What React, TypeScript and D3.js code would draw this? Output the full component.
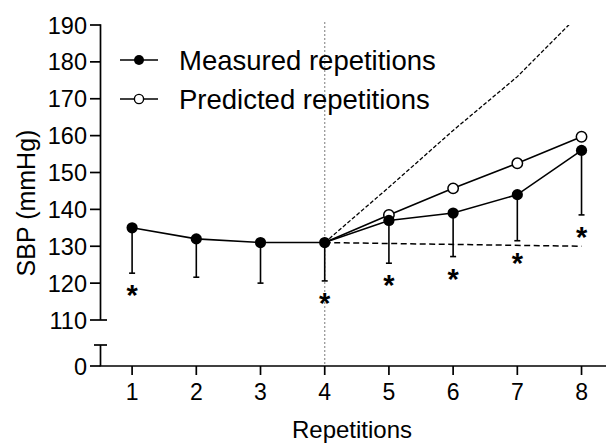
import React from 'react';
import * as d3 from 'd3';

const reps = [1, 2, 3, 4, 5, 6, 7, 8];
const measured = [135, 132, 131, 131, 137, 139, 144, 156];
const measuredLower = [122.7, 121.6, 120.0, 120.6, 125.4, 127.2, 131.5, 138.5];
const significant = [true, false, false, true, true, true, true, true];
const predictedReps = [4, 5, 6, 7, 8];
const predicted = [131, 138.5, 145.7, 152.5, 159.7];
const upperReps = [4, 5, 6, 7, 8];
const upperBound = [131, 146, 161.4, 176, 193.5];
const baseReps = [4, 8];
const baseline = [131, 130];
const yTicks = [110, 120, 130, 140, 150, 160, 170, 180, 190];
const yLowTicks = [0];
const legendLabels = ['Measured repetitions', 'Predicted repetitions'];
const xTitle = 'Repetitions';
const yTitle = 'SBP (mmHg)';

const W = 606;
const H = 443;
const FONT = '"Liberation Sans", Arial, sans-serif';

export default function App() {
  const x = d3.scaleLinear().domain([0.5, 8.35]).range([100, 604]);
  const y = d3.scaleLinear().domain([110, 190]).range([320, 25]);
  const yLow = d3.scaleLinear().domain([0, 5.7]).range([366, 345]);
  const axX = 100.5;

  const line = d3
    .line<[number, number]>()
    .x((d) => x(d[0]))
    .y((d) => y(d[1]));

  const measuredPts = reps.map((r, i) => [r, measured[i]] as [number, number]);
  const predPts = predictedReps.map((r, i) => [r, predicted[i]] as [number, number]);
  const upperPts = upperReps.map((r, i) => [r, upperBound[i]] as [number, number]);
  const basePts = baseReps.map((r, i) => [r, baseline[i]] as [number, number]);

  const legendY = [60, 99];

  return (
    <svg
      width={W}
      height={H}
      style={{ position: 'absolute', left: 0, top: 0, background: '#fff' }}
      fontFamily={FONT}
    >
      <defs>
        <clipPath id="plotClip">
          <rect x={100} y={y(190)} width={506} height={366 - y(190)} />
        </clipPath>
      </defs>

      {/* vertical dotted reference line at rep 4 */}
      <line
        x1={x(4)}
        x2={x(4)}
        y1={22}
        y2={366}
        stroke="#9a9a9a"
        strokeWidth={1.3}
        strokeDasharray="2,2"
      />

      {/* upper dashed bound */}
      <path
        d={line(upperPts) || ''}
        fill="none"
        stroke="#000"
        strokeWidth={1.3}
        strokeDasharray="4,2"
        clipPath="url(#plotClip)"
      />
      {/* lower dashed baseline */}
      <path
        d={line(basePts) || ''}
        fill="none"
        stroke="#000"
        strokeWidth={1.5}
        strokeDasharray="6,3.5"
      />

      {/* predicted line */}
      <path d={line(predPts) || ''} fill="none" stroke="#000" strokeWidth={1.6} />

      {/* error bars */}
      {reps.map((r, i) => (
        <g key={'eb' + r}>
          <line
            x1={x(r)}
            x2={x(r)}
            y1={y(measured[i])}
            y2={y(measuredLower[i])}
            stroke="#000"
            strokeWidth={1.6}
          />
          <line
            x1={x(r) - 3}
            x2={x(r) + 3}
            y1={y(measuredLower[i])}
            y2={y(measuredLower[i])}
            stroke="#000"
            strokeWidth={1.6}
          />
        </g>
      ))}

      {/* measured line */}
      <path d={line(measuredPts) || ''} fill="none" stroke="#000" strokeWidth={1.6} />

      {/* predicted open markers */}
      {predictedReps.map((r, i) =>
        r === 4 ? null : (
          <circle
            key={'pc' + r}
            cx={x(r)}
            cy={y(predicted[i])}
            r={5.2}
            fill="#fff"
            stroke="#000"
            strokeWidth={1.5}
          />
        )
      )}

      {/* measured filled markers */}
      {reps.map((r, i) => (
        <circle key={'mc' + r} cx={x(r)} cy={y(measured[i])} r={5.6} fill="#000" />
      ))}

      {/* significance asterisks */}
      {reps.map((r, i) =>
        significant[i] ? (
          <text
            key={'ast' + r}
            x={x(r)}
            y={y(measuredLower[i]) + 16 + 16}
            textAnchor="middle"
            fontSize={29}
            fontWeight="bold"
            fill="#000"
          >
            *
          </text>
        ) : null
      )}

      {/* Y axis upper segment */}
      <line x1={axX} x2={axX} y1={y(190) - 0.8} y2={y(110)} stroke="#000" strokeWidth={1.7} />
      {yTicks.map((t) => (
        <g key={'yt' + t}>
          <line
            x1={90}
            x2={t === 110 ? 107 : axX}
            y1={y(t)}
            y2={y(t)}
            stroke="#000"
            strokeWidth={1.7}
          />
          <text x={87} y={y(t) + 8.5} textAnchor="end" fontSize={23.5} fill="#000">
            {t}
          </text>
        </g>
      ))}

      {/* Y axis lower segment */}
      <line x1={axX} x2={axX} y1={yLow(5.7)} y2={yLow(0)} stroke="#000" strokeWidth={1.7} />
      <line x1={94} x2={107} y1={yLow(5.7)} y2={yLow(5.7)} stroke="#000" strokeWidth={1.7} />
      {yLowTicks.map((t) => (
        <g key={'ylt' + t}>
          <line x1={90} x2={axX} y1={yLow(t)} y2={yLow(t)} stroke="#000" strokeWidth={1.7} />
          <text x={87} y={yLow(t) + 8.5} textAnchor="end" fontSize={23.5} fill="#000">
            {t}
          </text>
        </g>
      ))}

      {/* X axis */}
      <line x1={axX - 0.8} x2={606} y1={yLow(0)} y2={yLow(0)} stroke="#000" strokeWidth={1.7} />
      {reps.map((r) => (
        <g key={'xt' + r}>
          <line x1={x(r)} x2={x(r)} y1={yLow(0)} y2={yLow(0) + 9} stroke="#000" strokeWidth={1.7} />
          <text x={x(r)} y={400} textAnchor="middle" fontSize={23} fill="#000">
            {r}
          </text>
        </g>
      ))}

      {/* titles */}
      <text x={352} y={438} textAnchor="middle" fontSize={24} fill="#000">
        {xTitle}
      </text>
      <text
        transform={`translate(35, ${203}) rotate(-90)`}
        textAnchor="middle"
        fontSize={25}
        fill="#000"
      >
        {yTitle}
      </text>

      {/* legend */}
      {legendLabels.map((lab, i) => (
        <g key={'lg' + i}>
          <line x1={120} x2={158} y1={legendY[i]} y2={legendY[i]} stroke="#000" strokeWidth={1.6} />
          {i === 0 ? (
            <circle cx={139} cy={legendY[i]} r={5} fill="#000" />
          ) : (
            <circle cx={139} cy={legendY[i]} r={4.6} fill="#fff" stroke="#000" strokeWidth={1.4} />
          )}
          <text x={179} y={legendY[i] + 9.5} fontSize={27.5} fill="#000">
            {lab}
          </text>
        </g>
      ))}
    </svg>
  );
}
